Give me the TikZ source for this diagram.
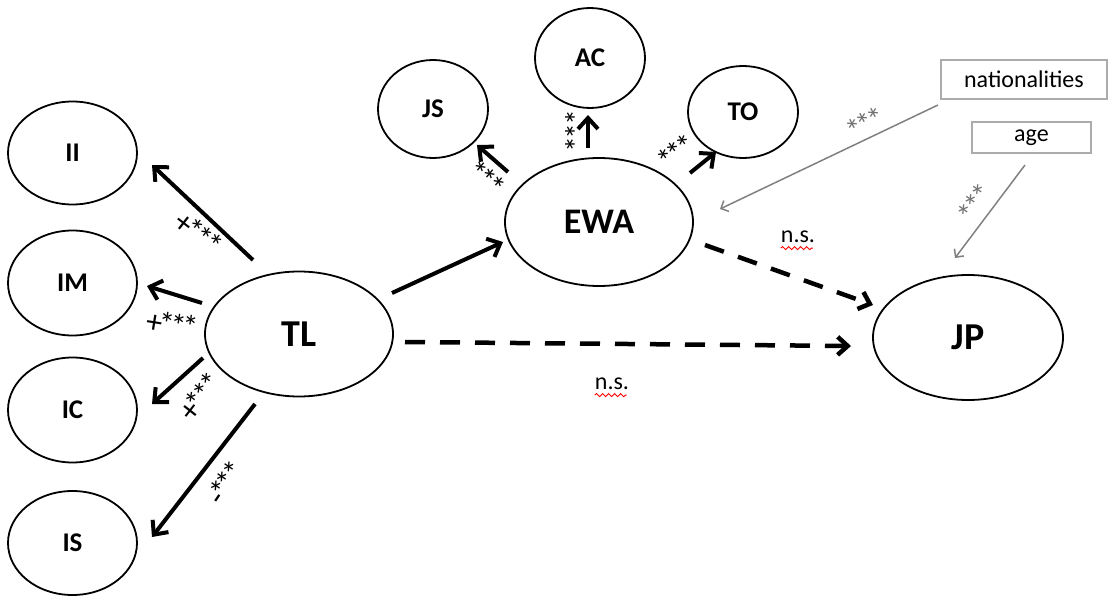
\documentclass[tikz,border=0pt]{standalone}
\usepackage{fontspec}
\setmainfont{Carlito}
\usetikzlibrary{arrows.meta,shapes.geometric,decorations.pathmorphing}
\newcommand\sk{\kern-4pt}
\begin{document}
\begin{tikzpicture}[x=1pt,y=-1pt,
  var/.style={draw, ellipse, line width=1.8pt, inner sep=0pt, font=\bfseries\fontsize{27}{27}\selectfont},
  bigvar/.style={var, font=\bfseries\fontsize{38}{38}\selectfont},
  blk/.style={line width=4pt, -{Straight Barb[length=11pt,width=20pt]}},
  dsh/.style={line width=4.5pt, dash pattern=on 20pt off 15pt, -{Straight Barb[length=10pt,width=18pt]}},
  gry/.style={draw=gray, line width=1.5pt, -{Straight Barb[length=6pt,width=12pt]}},
  stars/.style={inner sep=0pt, text height=21pt, text depth=-9pt, font=\fontsize{32}{32}\selectfont},
  gstars/.style={stars, text=gray!90!black},
  cbox/.style={draw=gray!65, line width=1.5pt, inner sep=0pt, font=\fontsize{24}{24}\selectfont},
  ns/.style={inner sep=0pt, font=\fontsize{24}{24}\selectfont},
  wave/.style={draw=red, line width=0.9pt, decorate, decoration={snake, segment length=6pt, amplitude=1.6pt}}]
\useasboundingbox (0,0) rectangle (1109,596);

% nodes
\node[var, minimum width=129pt, minimum height=103pt] (II) at (72.5,153) {II};
\node[var, minimum width=129pt, minimum height=105pt] (IM) at (72.5,283) {IM};
\node[var, minimum width=129pt, minimum height=105pt] (IC) at (72.5,410) {IC};
\node[var, minimum width=129pt, minimum height=104pt] (IS) at (72.5,543) {IS};
\node[bigvar, minimum width=188pt, minimum height=125pt] (TL) at (299,334) {TL};
\node[bigvar, font=\bfseries\fontsize{36}{36}\selectfont, minimum width=188pt, minimum height=128pt] (EWA) at (599,222) {EWA};
\node[bigvar, minimum width=190pt, minimum height=125pt] (JP) at (968,337.5) {JP};
\node[var, minimum width=110pt, minimum height=98pt] (JS) at (433,109) {JS};
\node[var, minimum width=110pt, minimum height=100pt] (AC) at (590,58) {AC};
\node[var, minimum width=110pt, minimum height=92pt] (TO) at (743,112) {TO};
\node[cbox, minimum width=166pt, minimum height=39pt] (nat) at (1024,79.5) {nationalities};
\node[cbox, minimum width=119pt, minimum height=31pt] (age) at (1031.5,137.5) {age};

% connector end points
\coordinate (a1) at (253,260); \coordinate (b1) at (152,165);
\coordinate (a2) at (202,303); \coordinate (b2) at (147,286);
\coordinate (a3) at (203,358); \coordinate (b3) at (152,404);
\coordinate (a4) at (255,404); \coordinate (b4) at (152,537);
\coordinate (a5) at (392,293); \coordinate (b5) at (503,242);
\coordinate (a6) at (405,342); \coordinate (b6) at (851,346);
\coordinate (a7) at (705,245); \coordinate (b7) at (873,305);
\coordinate (a8) at (508,172); \coordinate (b8) at (477,145);
\coordinate (a9) at (588,148); \coordinate (b9) at (588,115);
\coordinate (a10) at (690,173); \coordinate (b10) at (716,152);
\coordinate (a11) at (938,105); \coordinate (b11) at (720,209);
\coordinate (a12) at (1025,165); \coordinate (b12) at (955,258);

% connectors
\draw[blk] (a1) -- (b1);
\draw[blk] (a2) -- (b2);
\draw[blk] (a3) -- (b3);
\draw[blk] (a4) -- (b4);
\draw[blk] (a5) -- (b5);
\draw[dsh] (a6) -- (b6);
\draw[dsh] (a7) -- (b7);
\draw[blk] (a8) -- (b8);
\draw[blk] (a9) -- (b9);
\draw[blk] (a10) -- (b10);
\draw[gry] (a11) -- (b11);
\draw[gry] (a12) -- (b12);

% labels
\node[stars, rotate=-38] (l1) at (198,234) {+\sk*\sk*\sk*};
\node[stars, rotate=-9] (l2) at (172,325) {+\sk*\sk*\sk*};
\node[stars, rotate=52] (l3) at (201,397) {+\sk*\sk*\sk*};
\node[stars, rotate=56] (l4) at (227,483) {-\sk*\sk*\sk*};
\node[stars, rotate=-40] (l8) at (485,180) {*\sk*\sk*};
\node[stars, rotate=-90] (l9) at (563,131) {*\kern-2pt*\kern-2pt*};
\node[stars, rotate=36] (l10) at (677,153) {*\sk*\sk*};
\node[gstars, rotate=27] (l11) at (866,125) {*\sk*\sk*};
\node[gstars, rotate=54] (l12) at (977,204) {*\sk*\sk*};

\node[ns] (ns1) at (798,237) {n.s.};
\node[ns] (ns2) at (612,384) {n.s.};
\draw[wave] (ns1.south west) ++(0,5) -- ++(32,0);
\draw[wave] (ns2.south west) ++(0,5) -- ++(32,0);
\end{tikzpicture}
\end{document}
